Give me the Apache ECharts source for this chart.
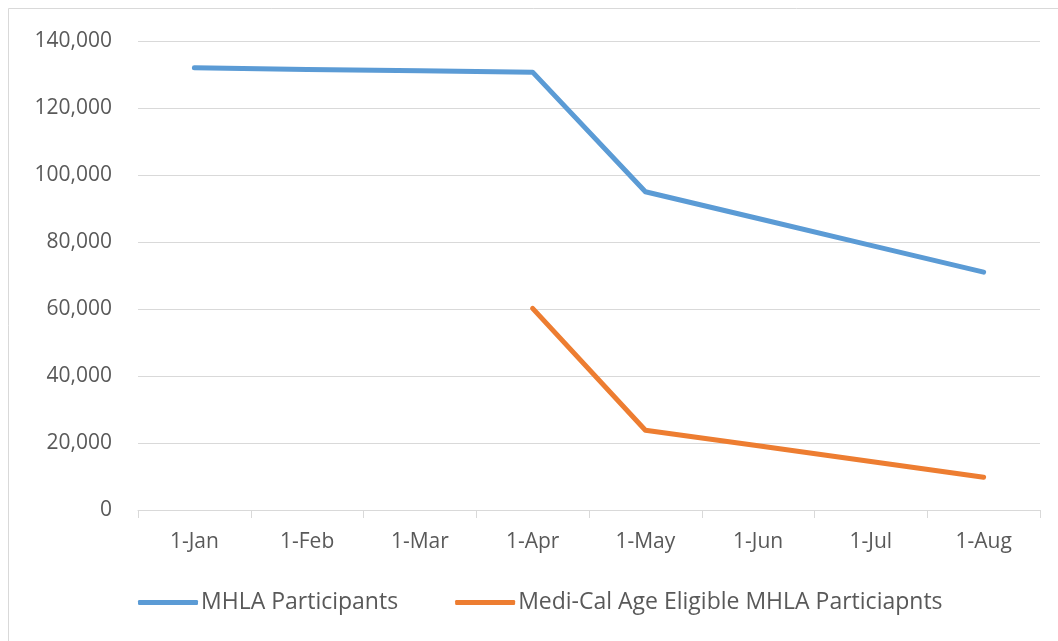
<!DOCTYPE html>
<html>
<head>
<meta charset="utf-8">
<script src="https://cdn.jsdelivr.net/npm/echarts@6/dist/echarts.min.js"></script>
<style>
  html, body { margin: 0; padding: 0; background: #fff; }
  #chart { width: 1058px; height: 641px; }
</style>
</head>
<body>
<div id="chart"></div>
<script>
const categories = ['1-Jan', '1-Feb', '1-Mar', '1-Apr', '1-May', '1-Jun', '1-Jul', '1-Aug'];
const mhlaParticipants = [132000, 131500, 131100, 130700, 95000, 87000, 79000, 71000];
const mediCalEligible = [null, null, null, 60200, 23800, 19200, 14500, 9800];
const seriesNames = ['MHLA Participants', 'Medi-Cal Age Eligible MHLA Particiapnts'];

const FONT = 'Open Sans';
const TEXT = '#595959';

const chart = echarts.init(document.getElementById('chart'), null, { renderer: 'canvas' });
chart.setOption({
  animation: false,
  backgroundColor: '#fff',
  graphic: [{
    type: 'rect',
    shape: { x: 8.5, y: 8.5, width: 1060, height: 640 },
    style: { fill: 'none', stroke: '#d9d9d9', lineWidth: 1 },
    silent: true
  }],
  grid: { left: 138, right: 18, top: 41, bottom: 131 },
  legend: {
    bottom: 22,
    left: 133,
    itemWidth: 60,
    itemHeight: 5,
    itemGap: 57,
    icon: 'roundRect',
    textStyle: { fontFamily: FONT, fontSize: 23, color: TEXT, padding: [0, 0, 0, -2] },
    data: seriesNames
  },
  xAxis: {
    type: 'category',
    data: categories,
    boundaryGap: true,
    axisLine: { lineStyle: { color: '#d9d9d9', width: 1 } },
    axisTick: { show: true, length: 8, lineStyle: { color: '#d9d9d9' } },
    axisLabel: { fontFamily: FONT, fontSize: 21, color: TEXT, margin: 22 }
  },
  yAxis: {
    type: 'value',
    min: 0,
    max: 140000,
    interval: 20000,
    axisLine: { show: false },
    axisTick: { show: false },
    splitLine: { lineStyle: { color: '#d9d9d9', width: 1 } },
    axisLabel: {
      fontFamily: FONT, fontSize: 21, color: TEXT, margin: 26,
      formatter: v => v.toLocaleString('en-US')
    }
  },
  series: [
    {
      name: seriesNames[0],
      type: 'line',
      data: mhlaParticipants,
      symbol: 'none',
      color: '#5B9BD5',
      lineStyle: { width: 5, color: '#5B9BD5', cap: 'round', join: 'round' }
    },
    {
      name: seriesNames[1],
      type: 'line',
      data: mediCalEligible,
      symbol: 'none',
      color: '#ED7D31',
      lineStyle: { width: 5, color: '#ED7D31', cap: 'round', join: 'round' }
    }
  ]
});
</script>
</body>
</html>
